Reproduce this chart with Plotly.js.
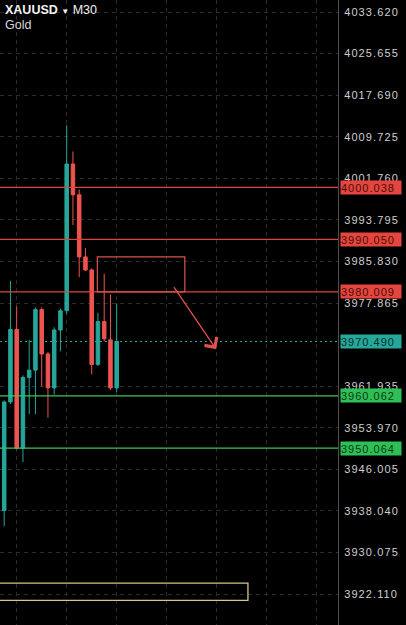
<!DOCTYPE html>
<html><head><meta charset="utf-8">
<script src="https://cdn.plot.ly/plotly-3.0.1.min.js"></script>
<style>
html,body{margin:0;padding:0;background:#000;}
#chart{width:406px;height:625px;}
.ytick text{letter-spacing:1.1px;}
.annotation[data-index="0"] text,.annotation[data-index="1"] text,.annotation[data-index="2"] text,
.annotation[data-index="3"] text,.annotation[data-index="4"] text,.annotation[data-index="5"] text{letter-spacing:1px;}
</style></head><body><div id="chart"></div>
<script>
// ---- data ----
const candleIndex = [0,1,2,3,4,5,6,7,8,9,10,11,12,13,14,15,16,17,18];
const openPrices  = [3938.1,3958.9,3972.8,3950.0,3963.6,3965.0,3976.6,3968.1,3961.6,3972.7,3976.4,4004.5,3998.6,3986.7,3984.2,3966.1,3974.3,3970.8,3961.6];
const highPrices  = [3959.2,3982.1,3977.2,3964.0,3970.8,3977.0,3977.0,3968.5,3973.2,3976.8,4011.9,4006.9,3999.6,3988.4,3984.5,3976.0,3983.5,3979.5,3977.8];
const lowPrices   = [3935.1,3958.5,3949.8,3947.4,3956.6,3956.6,3961.8,3955.9,3960.3,3968.6,3975.8,3992.8,3982.8,3984.0,3964.2,3965.8,3970.5,3961.2,3960.8];
const closePrices = [3958.9,3972.8,3950.0,3963.6,3965.0,3976.6,3968.1,3961.6,3972.7,3976.4,4004.5,3998.6,3986.7,3984.2,3966.1,3974.3,3971.0,3961.6,3970.49];

const priceTicks = [4033.620,4025.655,4017.690,4009.725,4001.760,3993.795,3985.830,3977.865,3961.935,3953.970,3946.005,3938.040,3930.075,3922.110];
const resistanceLevels = [4000.038,3990.050,3980.009];
const supportLevels = [3960.062,3950.064];
const lastPrice = 3970.490;

const zoneX = [14.9, 28.9];
const zoneY = [3980.009, 3986.7];
const arrowFrom = [27.0, 3981.2];
const arrowTo = [33.9, 3969.0];
const lowerZoneX = [-2, 39.0];
const lowerZoneY = [3920.9, 3924.2];

const symbolName = 'XAUUSD';
const timeframe = 'M30';
const instrumentName = 'Gold';

// ---- styles ----
const UP = '#26a69a', DOWN = '#ef5350';
const RED_LINE = '#d5483f', GREEN_LINE = '#3cc25e';
const labelFont = 'Liberation Sans, Arial, sans-serif';

const trace = {
  type: 'candlestick',
  x: candleIndex, open: openPrices, high: highPrices, low: lowPrices, close: closePrices,
  increasing: {line: {color: UP, width: 1}, fillcolor: UP},
  decreasing: {line: {color: DOWN, width: 1}, fillcolor: DOWN},
  whiskerwidth: 0, hoverinfo: 'skip', showlegend: false
};

const shapes = [];
resistanceLevels.forEach(v => shapes.push({type:'line', xref:'paper', x0:0, x1:1, yref:'y', y0:v, y1:v, line:{color:RED_LINE, width:1.3}}));
supportLevels.forEach(v => shapes.push({type:'line', xref:'paper', x0:0, x1:1, yref:'y', y0:v, y1:v, line:{color:GREEN_LINE, width:1.3}}));
shapes.push({type:'line', xref:'paper', x0:0, x1:1, yref:'y', y0:lastPrice, y1:lastPrice, line:{color:'#2aa89c', width:1.2, dash:'2px,3px'}});
shapes.push({type:'rect', xref:'x', yref:'y', x0:zoneX[0], x1:zoneX[1], y0:zoneY[0], y1:zoneY[1], line:{color:'#d9524b', width:1.2}, fillcolor:'rgba(0,0,0,0)'});
shapes.push({type:'rect', xref:'x', yref:'y', x0:lowerZoneX[0], x1:lowerZoneX[1], y0:lowerZoneY[0], y1:lowerZoneY[1], line:{color:'#d8c483', width:1.3}, fillcolor:'rgba(0,0,0,0)'});

const annotations = [];
function priceBox(v, bg, fg){
  annotations.push({xref:'paper', x:1, xanchor:'left', xshift:2, yref:'y', y:v, yanchor:'middle',
    text: v.toFixed(3), showarrow:false, bgcolor:bg, width:60, height:13, align:'left', borderpad:0,
    font:{family:labelFont, size:11, color:fg}});
}
resistanceLevels.forEach(v => priceBox(v, '#e5453d', '#4a0d0a'));
supportLevels.forEach(v => priceBox(v, '#2fbf55', '#0a3a15'));
priceBox(lastPrice, '#27a69a', '#06302b');

annotations.push({xref:'x', yref:'y', axref:'x', ayref:'y', x:arrowTo[0], y:arrowTo[1], ax:arrowFrom[0], ay:arrowFrom[1],
  text:'', showarrow:true, arrowhead:4, arrowsize:2.2, arrowwidth:1.3, arrowcolor:'#e0514a', standoff:0});

annotations.push({xref:'paper', yref:'paper', x:0, y:1, xanchor:'left', yanchor:'top', xshift:3, yshift:-1,
  text:'<b>'+symbolName+'</b> <span style="font-size:8px">▼</span> '+timeframe, showarrow:false, align:'left',
  font:{family:labelFont, size:12.5, color:'#f2f2f2'}});
annotations.push({xref:'paper', yref:'paper', x:0, y:1, xanchor:'left', yanchor:'top', xshift:3, yshift:-16,
  text:instrumentName, showarrow:false, align:'left',
  font:{family:labelFont, size:12.5, color:'#d8d8d8'}});

const layout = {
  width:406, height:625,
  margin:{l:0, r:68, t:0, b:0},
  paper_bgcolor:'#000', plot_bgcolor:'#000',
  boxgap:0.2,
  showlegend:false,
  xaxis:{range:[-0.672, 53.41], tickmode:'linear', tick0:2, dtick:8, showticklabels:false,
    showgrid:true, gridcolor:'#2b2b2b', griddash:'4px,4px', gridwidth:1, zeroline:false, showline:false,
    rangeslider:{visible:false}, fixedrange:true},
  yaxis:{range:[3916.17, 4035.92], side:'right', tickmode:'array', tickvals:priceTicks, tickformat:'.3f',
    showgrid:true, gridcolor:'#2b2b2b', griddash:'4px,4px', gridwidth:1, zeroline:false,
    showline:true, linecolor:'#4d4d4d', linewidth:1, ticks:'', ticklabelstandoff:3,
    tickfont:{family:labelFont, size:11, color:'#cfcfcf'}, fixedrange:true},
  shapes:shapes, annotations:annotations
};

Plotly.newPlot('chart', [trace], layout, {staticPlot:true, displayModeBar:false});
</script></body></html>
